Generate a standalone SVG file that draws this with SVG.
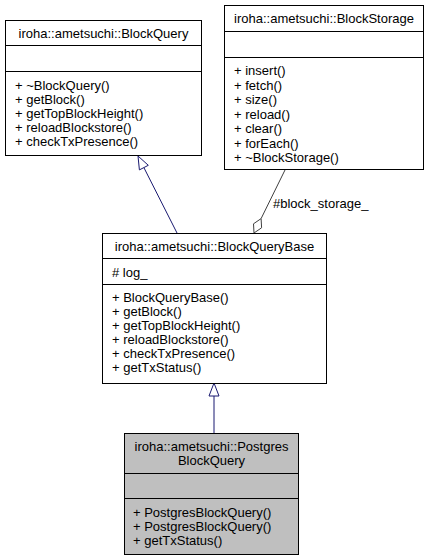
<svg xmlns="http://www.w3.org/2000/svg" width="434" height="560" viewBox="0 0 434 560">
<style>
text{font-family:"Liberation Sans",Arial,sans-serif;font-size:13px;fill:#000}
.t{text-anchor:middle}
.box{fill:#fff;stroke:#000;stroke-width:1}
.cur{fill:#bfbfbf;stroke:#000;stroke-width:1}
.div{stroke:#000;stroke-width:1}
.inh{stroke:#191970;stroke-width:1;fill:none}
.inhh{stroke:#191970;stroke-width:1;fill:#fff}
.agg{stroke:#404040;stroke-width:1;fill:none}
.aggh{stroke:#404040;stroke-width:1;fill:#fff}
</style>
<rect width="434" height="560" fill="#fff"/>
<g id="connectors">
<line class="inh" x1="177" y1="233" x2="143.9" y2="167.6"/>
<polygon class="inhh" points="138,156 148.3,165.3 139.4,169.9"/>
<line class="inh" x1="214" y1="433" x2="214" y2="396"/>
<polygon class="inhh" points="214,383 219,396 209,396"/>
<line class="agg" x1="285" y1="170" x2="261.1" y2="218.6"/>
<polygon class="aggh" points="254,233 253.5,223.8 261.1,218.6 261.6,227.8"/>
<text x="273" y="208">#block_storage_</text>
</g>
<g id="BlockQuery">
<rect class="box" x="5.5" y="20.5" width="196" height="135"/>
<line class="div" x1="5.5" y1="45.5" x2="201.5" y2="45.5"/>
<line class="div" x1="5.5" y1="71.5" x2="201.5" y2="71.5"/>
<text class="t" x="103.5" y="37.5">iroha::ametsuchi::BlockQuery</text>
<text x="15" y="89.5">+ ~BlockQuery()</text>
<text x="15" y="103.5">+ getBlock()</text>
<text x="15" y="117.5">+ getTopBlockHeight()</text>
<text x="15" y="131.5">+ reloadBlockstore()</text>
<text x="15" y="145.5">+ checkTxPresence()</text>
</g>
<g id="BlockStorage">
<rect class="box" x="224.5" y="5.5" width="199" height="164"/>
<line class="div" x1="224.5" y1="31.5" x2="423.5" y2="31.5"/>
<line class="div" x1="224.5" y1="57.5" x2="423.5" y2="57.5"/>
<text class="t" x="324" y="23">iroha::ametsuchi::BlockStorage</text>
<text x="234" y="75">+ insert()</text>
<text x="234" y="89.5">+ fetch()</text>
<text x="234" y="104">+ size()</text>
<text x="234" y="118.5">+ reload()</text>
<text x="234" y="133">+ clear()</text>
<text x="234" y="147.5">+ forEach()</text>
<text x="234" y="162">+ ~BlockStorage()</text>
</g>
<g id="BlockQueryBase">
<rect class="box" x="102.5" y="233.5" width="224" height="150"/>
<line class="div" x1="102.5" y1="258.5" x2="326.5" y2="258.5"/>
<line class="div" x1="102.5" y1="284.5" x2="326.5" y2="284.5"/>
<text class="t" x="214.5" y="250.5">iroha::ametsuchi::BlockQueryBase</text>
<text x="112" y="276.5"># log_</text>
<text x="112" y="302">+ BlockQueryBase()</text>
<text x="112" y="316">+ getBlock()</text>
<text x="112" y="330">+ getTopBlockHeight()</text>
<text x="112" y="344">+ reloadBlockstore()</text>
<text x="112" y="358">+ checkTxPresence()</text>
<text x="112" y="372">+ getTxStatus()</text>
</g>
<g id="PostgresBlockQuery">
<rect class="cur" x="124.5" y="433.5" width="174" height="121"/>
<line class="div" x1="124.5" y1="473.5" x2="298.5" y2="473.5"/>
<line class="div" x1="124.5" y1="498.5" x2="298.5" y2="498.5"/>
<text class="t" x="211.5" y="451">iroha::ametsuchi::Postgres</text>
<text class="t" x="211.5" y="465">BlockQuery</text>
<text x="133" y="517">+ PostgresBlockQuery()</text>
<text x="133" y="531">+ PostgresBlockQuery()</text>
<text x="133" y="545">+ getTxStatus()</text>
</g>
</svg>
